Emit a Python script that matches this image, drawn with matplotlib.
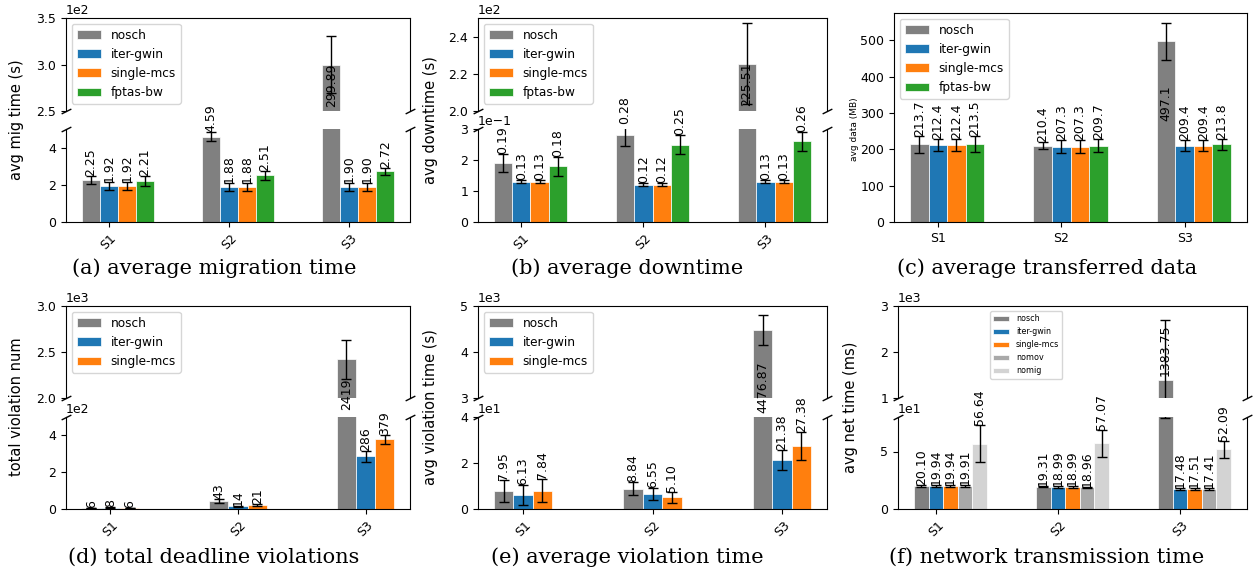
import matplotlib
matplotlib.use("Agg")
import matplotlib.pyplot as plt
import numpy as np

SCENARIOS = ["S1", "S2", "S3"]

# (a) average migration time (s)
MIG_NOSCH = [2.25, 4.59, 299.89]
MIG_NOSCH_ERR = [0.22, 0.26, 30.5]
MIG_ITER = [1.92, 1.88, 1.90]
MIG_ITER_ERR = [0.22, 0.23, 0.22]
MIG_SINGLE = [1.92, 1.88, 1.90]
MIG_SINGLE_ERR = [0.22, 0.23, 0.22]
MIG_FPTAS = [2.21, 2.51, 2.72]
MIG_FPTAS_ERR = [0.28, 0.23, 0.20]

# (b) average downtime (s)
DOWN_NOSCH = [0.19, 0.28, 225.51]
DOWN_NOSCH_ERR = [0.03, 0.035, 22.0]
DOWN_ITER = [0.13, 0.12, 0.13]
DOWN_ITER_ERR = [0.005, 0.005, 0.005]
DOWN_SINGLE = [0.13, 0.12, 0.13]
DOWN_SINGLE_ERR = [0.005, 0.005, 0.005]
DOWN_FPTAS = [0.18, 0.25, 0.26]
DOWN_FPTAS_ERR = [0.03, 0.03, 0.03]

# (c) average transferred data (MB)
DATA_NOSCH = [213.7, 210.4, 497.1]
DATA_NOSCH_ERR = [23.0, 10.0, 50.4]
DATA_ITER = [212.4, 207.3, 209.4]
DATA_ITER_ERR = [16.0, 17.0, 15.0]
DATA_SINGLE = [212.4, 207.3, 209.4]
DATA_SINGLE_ERR = [16.0, 17.0, 15.0]
DATA_FPTAS = [213.5, 209.7, 213.8]
DATA_FPTAS_ERR = [22.0, 18.0, 15.0]

# (d) total deadline violations
VIOL_NOSCH = [6, 43, 2419]
VIOL_NOSCH_ERR = [2, 12, 213]
VIOL_ITER = [8, 14, 286]
VIOL_ITER_ERR = [2, 5, 30]
VIOL_SINGLE = [6, 21, 379]
VIOL_SINGLE_ERR = [2, 6, 24]

# (e) average violation time (s)
VTIME_NOSCH = [7.95, 8.84, 4476.87]
VTIME_NOSCH_ERR = [4.8, 2.7, 332.0]
VTIME_ITER = [6.13, 6.55, 21.38]
VTIME_ITER_ERR = [4.4, 2.5, 4.4]
VTIME_SINGLE = [7.84, 5.10, 27.38]
VTIME_SINGLE_ERR = [5.0, 2.4, 6.0]

# (f) network transmission time (ms)
NET_NOSCH = [20.10, 19.31, 1383.75]
NET_NOSCH_ERR = [0.6, 0.6, 1305.0]
NET_ITER = [19.94, 18.99, 17.48]
NET_ITER_ERR = [0.6, 0.6, 0.8]
NET_SINGLE = [19.94, 18.99, 17.51]
NET_SINGLE_ERR = [0.6, 0.6, 0.8]
NET_NOMOV = [19.91, 18.96, 17.41]
NET_NOMOV_ERR = [0.6, 0.6, 0.8]
NET_NOMIG = [56.64, 57.07, 52.09]
NET_NOMIG_ERR = [16.0, 11.7, 7.4]

COLORS = {"nosch": "#808080", "iter-gwin": "#1f77b4", "single-mcs": "#ff7f0e",
          "fptas-bw": "#2ca02c", "nomov": "#a9a9a9", "nomig": "#d3d3d3"}

W, H = 1253, 576
TICK_FS = 9
LABEL_FS = 9


def rect(l, t, r, b):
    """pixel box -> figure fraction [left, bottom, width, height]"""
    return [l / W, 1 - b / H, (r - l) / W, (b - t) / H]


def draw_bars(ax, series, width):
    x = np.arange(len(SCENARIOS))
    out = []
    for j, (name, vals, errs) in enumerate(series):
        pos = x + (j - 1) * width
        ax.bar(pos, vals, width, yerr=errs, color=COLORS[name], edgecolor="white",
               linewidth=0.5, label=name, capsize=3.5,
               error_kw=dict(elinewidth=1, capthick=1, ecolor="black"))
        out.append((pos, vals, errs))
    return out


def value_labels(ax, bars, split, fmt, big_ax, big_frac):
    for pos, vals, errs in bars:
        for p, v, e in zip(pos, vals, errs):
            txt = fmt.format(v)
            if v <= split:
                ax.text(p, v + e, txt, rotation=90, ha="center", va="bottom", fontsize=LABEL_FS)
            else:
                big_ax.text(p, big_frac, txt, rotation=90, ha="center", va="center",
                            fontsize=LABEL_FS, transform=big_ax.get_xaxis_transform())


def add_breaks(top, bot):
    d = 0.5
    kw = dict(marker=[(-1, -d), (1, d)], markersize=7, linestyle="none",
              color="k", mec="k", mew=1, clip_on=False)
    top.plot([0, 1], [0, 0], transform=top.transAxes, **kw)
    bot.plot([0, 1], [1, 1], transform=bot.transAxes, **kw)


def broken_panel(fig, box_top, box_bot, series, width, up_lim, up_ticks, lo_lim, lo_ticks,
                 fmt, big_frac, legend_kw):
    ax_t = fig.add_axes(box_top)
    ax_b = fig.add_axes(box_bot, sharex=ax_t)
    bars = draw_bars(ax_t, series, width)
    draw_bars(ax_b, series, width)
    ax_t.set_ylim(*up_lim)
    ax_t.set_yticks(up_ticks)
    ax_b.set_ylim(*lo_lim)
    ax_b.set_yticks(lo_ticks)
    for ax in (ax_t, ax_b):
        ax.ticklabel_format(axis="y", style="sci", scilimits=(0, 0))
        ax.tick_params(labelsize=TICK_FS)
        ax.yaxis.get_offset_text().set_fontsize(TICK_FS)
    ax_t.spines["bottom"].set_visible(False)
    ax_b.spines["top"].set_visible(False)
    ax_t.tick_params(bottom=False, labelbottom=False)
    ax_b.set_xticks(np.arange(len(SCENARIOS)))
    ax_b.set_xticklabels(SCENARIOS, rotation=45)
    value_labels(ax_b, bars, lo_lim[1], fmt, ax_t, big_frac)
    ax_t.legend(**legend_kw)
    add_breaks(ax_t, ax_b)
    return ax_t, ax_b


fig = plt.figure(figsize=(W / 100, H / 100), dpi=100)

leg = dict(loc="upper left", fontsize=8.7)

# (a)
broken_panel(fig, rect(66, 18, 410, 111), rect(66, 129, 410, 222),
             [("nosch", MIG_NOSCH, MIG_NOSCH_ERR), ("iter-gwin", MIG_ITER, MIG_ITER_ERR),
              ("single-mcs", MIG_SINGLE, MIG_SINGLE_ERR), ("fptas-bw", MIG_FPTAS, MIG_FPTAS_ERR)],
             0.15, (250, 350), [250, 300, 350], (0, 5), [0, 2, 4], "{:.2f}", 0.278, leg)

# (b)
broken_panel(fig, rect(478, 18, 827, 111), rect(478, 129, 827, 222),
             [("nosch", DOWN_NOSCH, DOWN_NOSCH_ERR), ("iter-gwin", DOWN_ITER, DOWN_ITER_ERR),
              ("single-mcs", DOWN_SINGLE, DOWN_SINGLE_ERR), ("fptas-bw", DOWN_FPTAS, DOWN_FPTAS_ERR)],
             0.15, (200, 250), [200, 220, 240], (0, 0.3), [0, 0.1, 0.2, 0.3], "{:.2f}", 0.287, leg)

# (c) plain axis, no break
ax_c = fig.add_axes(rect(894, 13, 1247, 222))
bars_c = draw_bars(ax_c, [("nosch", DATA_NOSCH, DATA_NOSCH_ERR), ("iter-gwin", DATA_ITER, DATA_ITER_ERR),
                          ("single-mcs", DATA_SINGLE, DATA_SINGLE_ERR),
                          ("fptas-bw", DATA_FPTAS, DATA_FPTAS_ERR)], 0.15)
value_labels(ax_c, bars_c, 400, "{:.1f}", ax_c, 0.568)
ax_c.set_xticks(np.arange(len(SCENARIOS)))
ax_c.set_xticklabels(SCENARIOS)
ax_c.tick_params(labelsize=TICK_FS)
ax_c.legend(**leg)

# (d)
broken_panel(fig, rect(66, 306, 410, 398), rect(66, 417, 410, 509),
             [("nosch", VIOL_NOSCH, VIOL_NOSCH_ERR), ("iter-gwin", VIOL_ITER, VIOL_ITER_ERR),
              ("single-mcs", VIOL_SINGLE, VIOL_SINGLE_ERR)],
             0.15, (2000, 3000), [2000, 2500, 3000], (0, 500), [0, 200, 400], "{:.0f}", 0.04, leg)

# (e)
broken_panel(fig, rect(478, 306, 827, 398), rect(478, 417, 827, 509),
             [("nosch", VTIME_NOSCH, VTIME_NOSCH_ERR), ("iter-gwin", VTIME_ITER, VTIME_ITER_ERR),
              ("single-mcs", VTIME_SINGLE, VTIME_SINGLE_ERR)],
             0.15, (3000, 5000), [3000, 4000, 5000], (0, 40), [0, 20, 40], "{:.2f}", 0.117, leg)

# (f)
broken_panel(fig, rect(898, 306, 1247, 398), rect(898, 417, 1247, 509),
             [("nosch", NET_NOSCH, NET_NOSCH_ERR), ("iter-gwin", NET_ITER, NET_ITER_ERR),
              ("single-mcs", NET_SINGLE, NET_SINGLE_ERR), ("nomov", NET_NOMOV, NET_NOMOV_ERR),
              ("nomig", NET_NOMIG, NET_NOMIG_ERR)],
             0.12, (1000, 3000), [1000, 2000, 3000], (0, 80), [0, 50], "{:.2f}", 0.523,
             dict(loc="upper left", bbox_to_anchor=(0.264, 0.946), borderaxespad=0, fontsize=5.8))

# y labels (shared by both halves of a broken axis)
ylabels = [(17, 120, "avg mig time (s)", 10.5), (430, 120, "avg downtime (s)", 10.5),
           (855, 129, "avg data (MB)", 6.5), (17, 407, "total violation num", 10.5),
           (430, 407, "avg violation time (s)", 10.5), (850, 407, "avg net time (ms)", 10.5)]
for px, py, txt, fs in ylabels:
    fig.text(px / W, 1 - py / H, txt, rotation=90, ha="center", va="center", fontsize=fs)

captions = [(214, 268, "(a) average migration time"), (627, 268, "(b) average downtime"),
            (1047, 268, "(c) average transferred data"), (214, 557, "(d) total deadline violations"),
            (627, 557, "(e) average violation time"), (1047, 557, "(f) network transmission time")]
for px, py, txt in captions:
    fig.text(px / W, 1 - py / H, txt, ha="center", va="center", fontsize=15, family="DejaVu Serif")

fig.savefig("out.png", dpi=100)
